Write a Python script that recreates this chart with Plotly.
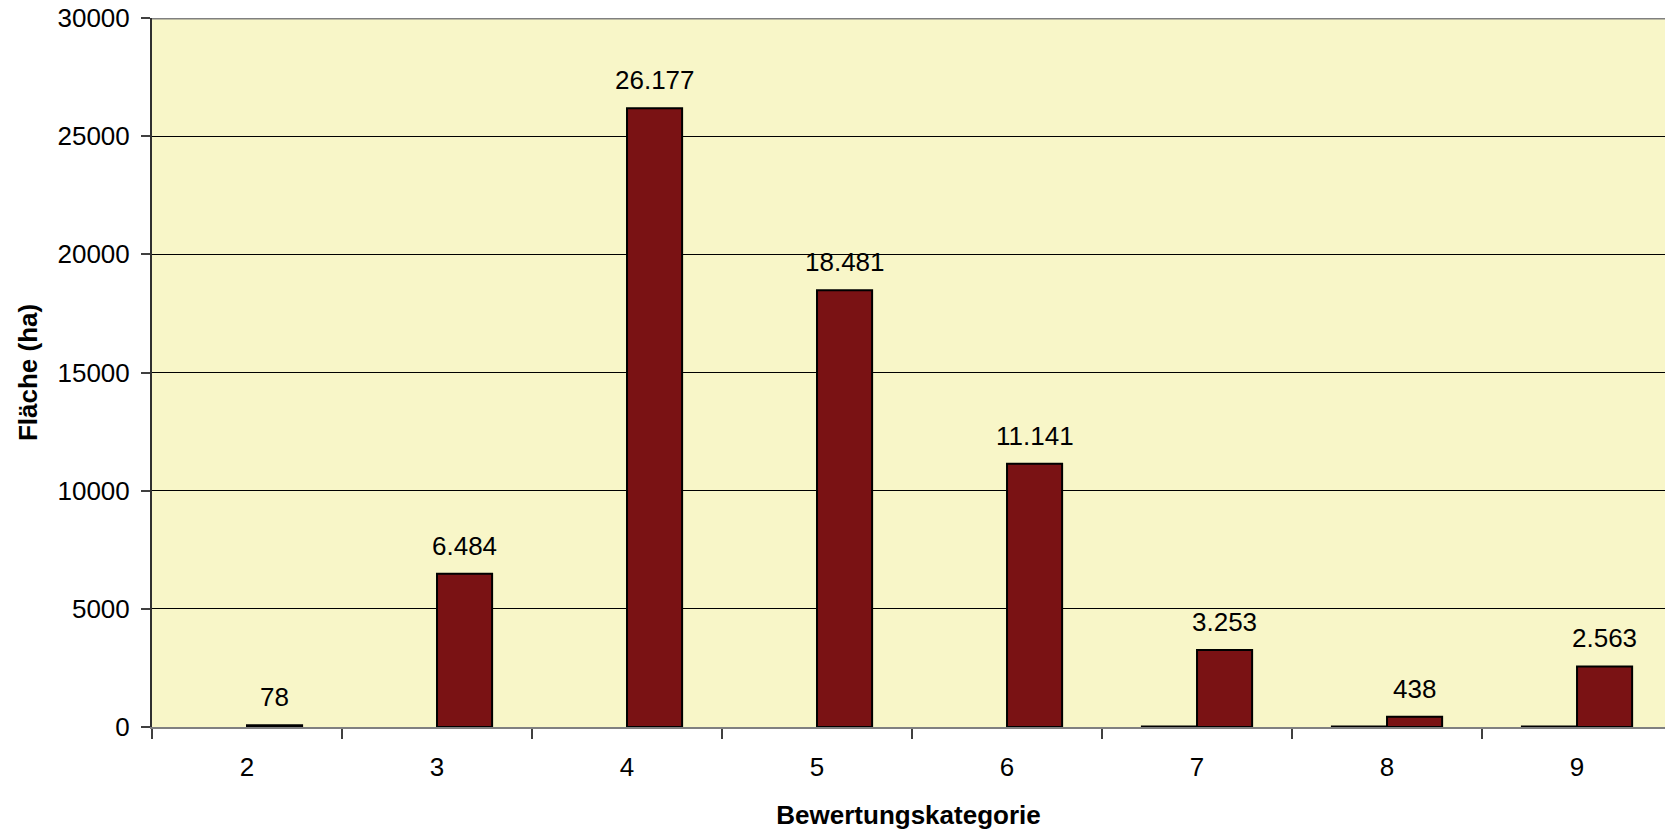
import plotly.graph_objects as go

categories = ["2", "3", "4", "5", "6", "7", "8", "9"]
series_small = [None, None, None, None, None, 20, 20, 20]
flaeche = [78, 6484, 26177, 18481, 11141, 3253, 438, 2563]
y_ticks = [0, 5000, 10000, 15000, 20000, 25000, 30000]

pos = list(range(len(categories)))
bw = 0.29
bar_color = "#7A1214"
bg = "#F8F6C8"
font_family = "Arial, Liberation Sans, sans-serif"

fig = go.Figure()
fig.add_trace(go.Bar(x=pos, y=series_small, offset=-bw, width=bw,
                     marker=dict(color=bar_color, line=dict(color="black", width=2)),
                     showlegend=False, hoverinfo="skip"))
fig.add_trace(go.Bar(x=pos, y=flaeche, offset=0, width=bw,
                     marker=dict(color=bar_color, line=dict(color="black", width=2)),
                     showlegend=False))

for p, v in zip(pos, flaeche):
    fig.add_annotation(x=p + bw / 2, y=v, text=f"{v:,}".replace(",", "."),
                       showarrow=False, yanchor="bottom", yshift=11,
                       font=dict(size=26, color="black", family=font_family))

xr = [-0.5, 7.463]
fig.update_layout(
    width=1665, height=831,
    margin=dict(l=152, r=0, t=18, b=104),
    paper_bgcolor="white", plot_bgcolor=bg,
    font=dict(family=font_family, size=26, color="black"),
    barmode="overlay",
    xaxis=dict(range=xr, tickmode="array",
               tickvals=[i - 0.5 for i in range(len(categories) + 1)],
               ticktext=["" for _ in range(len(categories) + 1)],
               ticks="outside", ticklen=10, tickwidth=1.5, tickcolor="#404040",
               showgrid=False, zeroline=False,
               showline=True, linecolor="#808080", linewidth=2),
    xaxis2=dict(range=xr, overlaying="x", side="bottom", tickmode="array",
                tickvals=pos, ticktext=categories, ticks="", showgrid=False,
                zeroline=False, showline=False, ticklabelstandoff=22,
                title=dict(text="<b>Bewertungskategorie</b>", standoff=24,
                           font=dict(size=26))),
    yaxis=dict(range=[0, 30000], tickmode="array", tickvals=y_ticks,
               ticktext=[str(t) for t in y_ticks],
               ticks="outside", ticklen=9, tickwidth=1.5, tickcolor="#404040",
               ticklabelstandoff=6,
               showgrid=True, gridcolor="black", gridwidth=1,
               zeroline=False, showline=True, linecolor="#303030", linewidth=2,
               title=dict(text="<b>Fläche (ha)</b>", standoff=12,
                          font=dict(size=26))),
)
fig.add_shape(type="line", xref="paper", yref="y", x0=0, x1=1, y0=30000, y1=30000,
              line=dict(color="#808080", width=3))
# invisible point on the overlay axis so its category labels are rendered
fig.add_trace(go.Scatter(x=[pos[0]], y=[0], xaxis="x2", mode="markers",
                         marker=dict(opacity=0), showlegend=False, hoverinfo="skip"))

fig.write_html("out.html", config={"displayModeBar": False},
               post_script="document.body.style.margin='0';document.body.style.overflow='hidden';")
